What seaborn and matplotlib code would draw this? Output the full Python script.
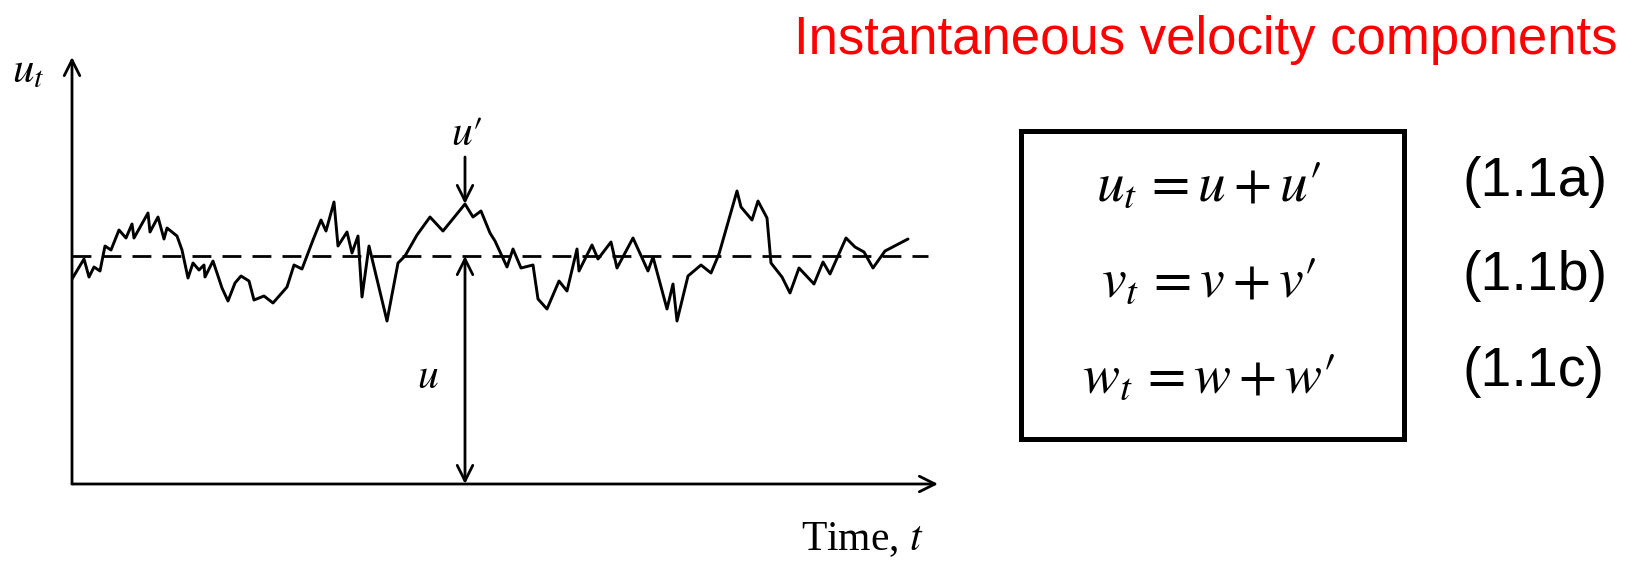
import matplotlib
matplotlib.use("Agg")
import matplotlib.pyplot as plt
import seaborn as sns
import pandas as pd

sns.set_theme(style="white")
plt.rcParams["mathtext.fontset"] = "stix"
plt.rcParams["font.family"] = ["Liberation Serif", "DejaVu Serif"]
plt.rcParams["text.color"] = "black"

# ---- data ----
time = [0, 12, 17, 22, 28, 33, 39, 47, 54, 60, 62, 76, 78, 86, 92, 95, 105, 110, 116, 121,
        127, 132, 133, 141, 150, 156, 163, 169, 177, 182, 192, 201, 208, 215, 222, 230, 241,
        249, 254, 262, 266, 275, 280, 286, 290, 297, 315, 326, 333, 345, 358, 371, 393, 401,
        409, 418, 423, 435, 441, 449, 461, 466, 475, 487, 495, 505, 507, 520, 526, 539, 545,
        561, 576, 581, 595, 601, 605, 616, 629, 639, 647, 665, 669, 680, 686, 695, 699, 710,
        718, 727, 742, 751, 758, 774, 783, 792, 801, 813, 836]
velocity = [205, 225, 207, 217, 213, 238, 234, 254, 246, 260, 246, 271, 252, 267, 245, 256,
            248, 234, 206, 221, 214, 219, 207, 223, 196, 183, 201, 208, 203, 184, 188, 181,
            189, 197, 219, 215, 244, 264, 253, 282, 238, 252, 231, 248, 187, 238, 163, 221,
            228, 249, 267, 253, 280, 267, 273, 251, 243, 217, 235, 216, 219, 185, 175, 203,
            193, 235, 213, 239, 225, 242, 216, 246, 213, 227, 175, 200, 163, 208, 219, 211,
            230, 293, 277, 264, 283, 266, 221, 207, 191, 216, 200, 222, 210, 246, 237, 232,
            216, 233, 245]
mean_u = 228
t_max = 866
u_max = 427
peak_t = 393
peak_u = 280

equations = [r"$u_t\,= u + u\prime$", r"$v_t\,= v + v\prime$", r"$w_t\,= w + w\prime$"]
eq_labels = ["(1.1a)", "(1.1b)", "(1.1c)"]
title = "Instantaneous velocity components"

W, H = 1625, 563
fig = plt.figure(figsize=(W / 100, H / 100), dpi=100)


def fx(x):
    return x / W


def fy(y):
    return 1 - y / H


# ---- signal axes ----
ax = fig.add_axes([fx(72), fy(484), (938 - 72) / W, (484 - 57) / H])
ax.set_xlim(0, t_max)
ax.set_ylim(0, u_max)
ax.axis("off")

df = pd.DataFrame({"t": time, "u": velocity})
sns.lineplot(data=df, x="t", y="u", sort=False, estimator=None, color="black", lw=2.1, ax=ax)
ax.plot([0, t_max - 10], [mean_u, mean_u], color="black", lw=2.0, dashes=(6.8, 4.0))

arrow = dict(arrowstyle="->", lw=2.0, color="black", mutation_scale=28, shrinkA=0, shrinkB=0)
# axes
ax.annotate("", xy=(0, u_max), xytext=(0, 0), arrowprops=arrow, annotation_clip=False)
ax.annotate("", xy=(t_max, 0), xytext=(0, 0), arrowprops=arrow, annotation_clip=False)
# u' arrow
ax.annotate("", xy=(peak_t, peak_u), xytext=(peak_t, 327), arrowprops=arrow, annotation_clip=False)
# u double arrow
darrow = dict(arrowstyle="<->", lw=2.0, color="black", mutation_scale=28, shrinkA=0, shrinkB=0)
ax.annotate("", xy=(peak_t, mean_u), xytext=(peak_t, 0), arrowprops=darrow, annotation_clip=False)

ax.text(peak_t + 2, 349, r"$u\prime$", fontsize=30, ha="center", va="center")
ax.text(356, 106, r"$u$", fontsize=30, ha="center", va="center")

fig.text(fx(28), fy(72), r"$u_t$", fontsize=31, ha="center", va="center")
fig.text(fx(862), fy(540), r"Time, $t$", fontsize=30, ha="center", va="center")

# ---- title ----
fig.text(fx(1617), fy(40), title, fontsize=38, color="#ff0000", ha="right", va="center",
         family=["Liberation Sans", "DejaVu Sans"])

# ---- equation box ----
bx = fig.add_axes([fx(1021), fy(439), (1404 - 1021) / W, (439 - 131) / H])
bx.set_xticks([])
bx.set_yticks([])
bx.set_facecolor("white")
for s in bx.spines.values():
    s.set_visible(True)
    s.set_color("black")
    s.set_linewidth(3.6)

eq_base = [200, 296, 392]
lab_base = [196, 290, 386]
for eq, lab, yb, yl in zip(equations, eq_labels, eq_base, lab_base):
    fig.text(fx(1209), fy(yb), eq, fontsize=40, ha="center", va="baseline")
    fig.text(fx(1463), fy(yl), lab, fontsize=40, ha="left", va="baseline",
             family=["Liberation Sans", "DejaVu Sans"])

fig.savefig("out.png", dpi=100)
